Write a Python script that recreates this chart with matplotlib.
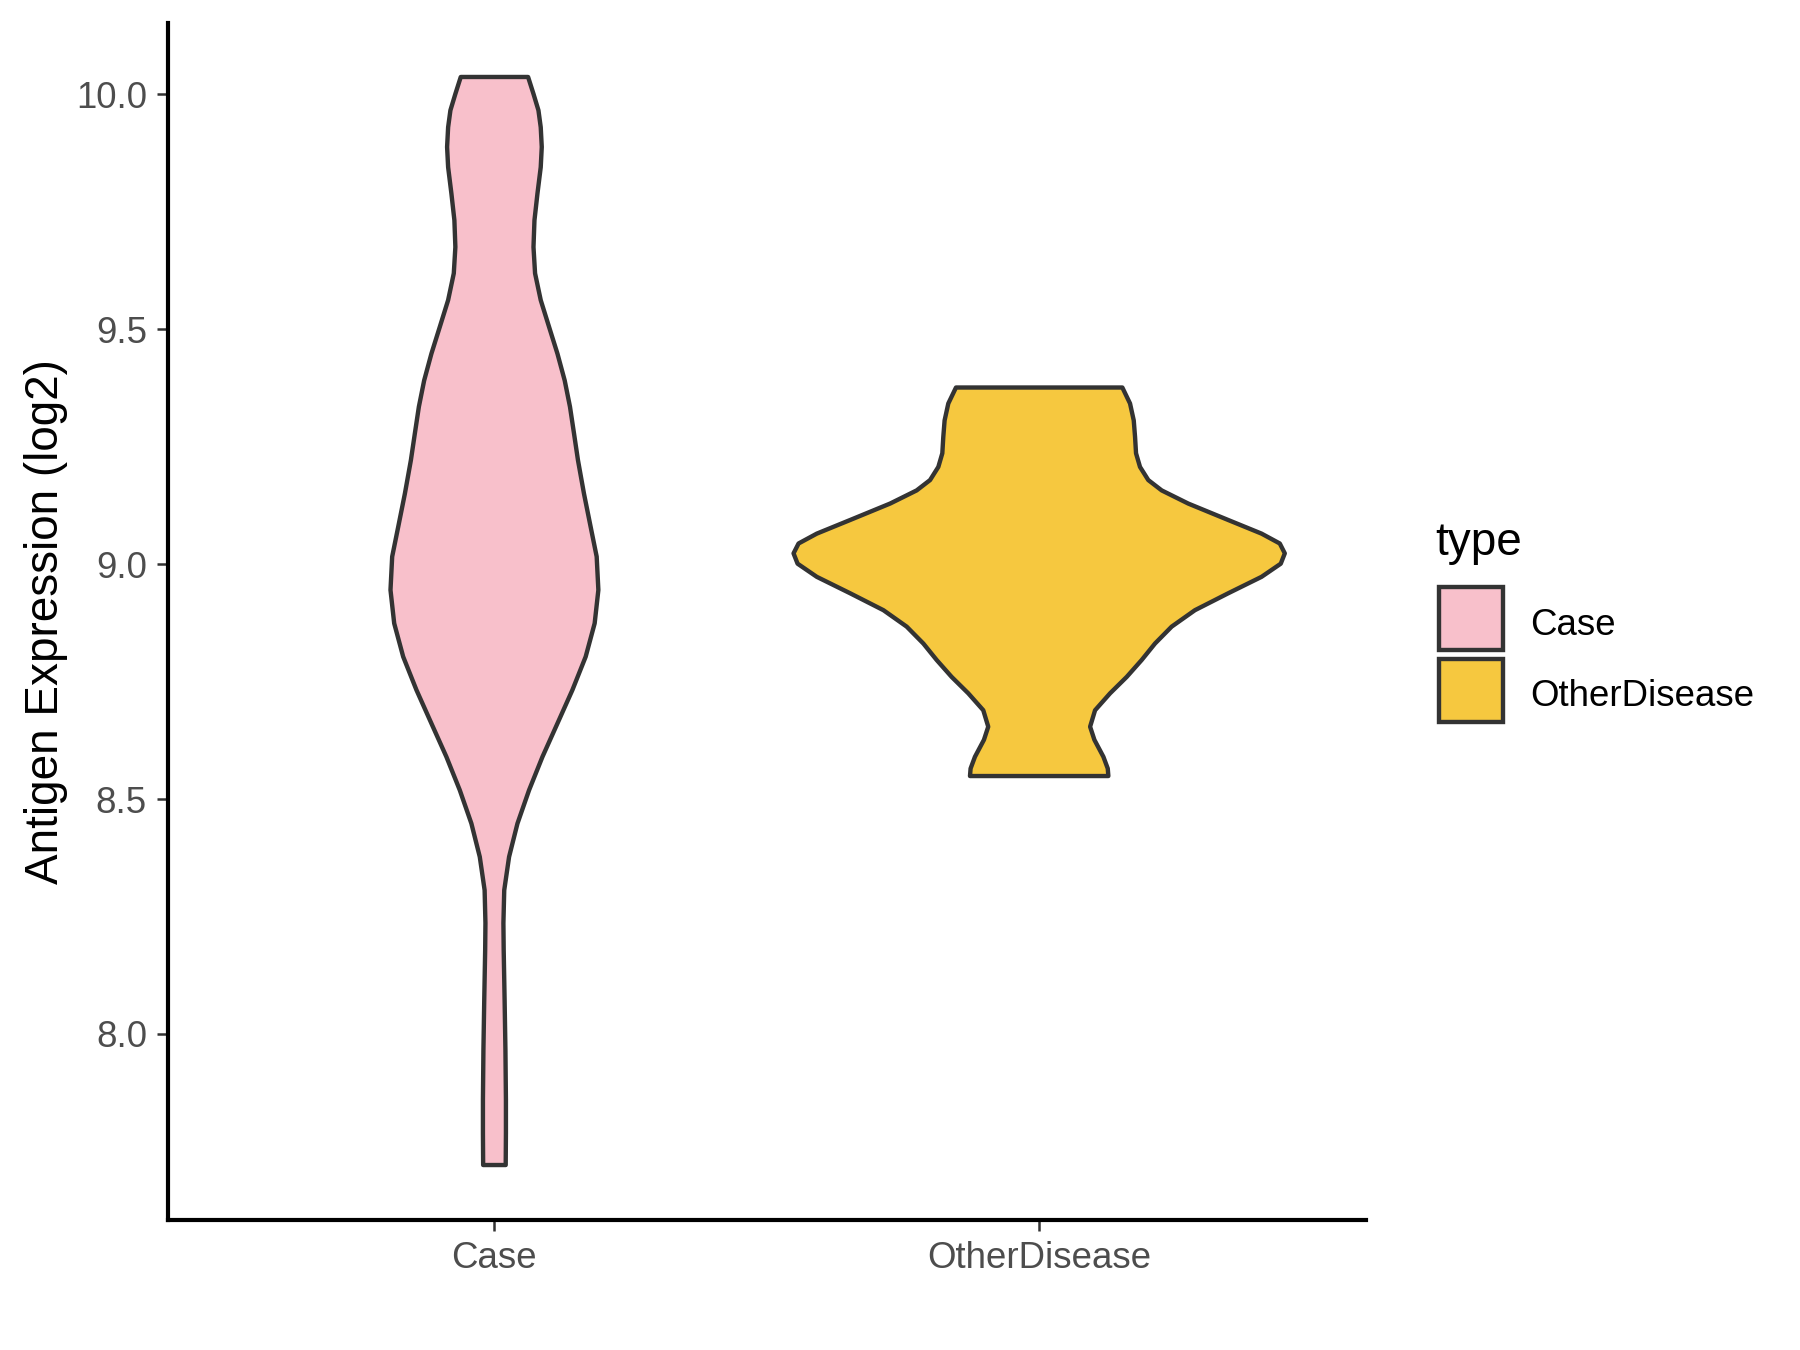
import matplotlib
matplotlib.use("Agg")
import matplotlib.pyplot as plt
from matplotlib.patches import Rectangle
import numpy as np

plt.rcParams["font.family"] = ["Liberation Sans", "DejaVu Sans"]

# groups and fill colours
groups = ["Case", "OtherDisease"]
fills = ["#F8C0CB", "#F6C83F"]

# violin outlines: expression level -> half width (x-axis units)
case_y = [10.037, 10.001, 9.966, 9.930, 9.888, 9.845, 9.789, 9.732, 9.675, 9.619,
          9.562, 9.505, 9.448, 9.391, 9.335, 9.278, 9.221, 9.150, 9.079, 9.016,
          8.945, 8.874, 8.803, 8.732, 8.661, 8.590, 8.519, 8.448, 8.377, 8.306,
          8.236, 8.179, 8.072, 7.966, 7.860, 7.789, 7.721]
case_w = [0.0618, 0.0717, 0.0808, 0.0850, 0.0869, 0.0850, 0.0790, 0.0735, 0.0717, 0.0746,
          0.0850, 0.1003, 0.1157, 0.1290, 0.1387, 0.1461, 0.1534, 0.1644, 0.1767, 0.1877,
          0.1908, 0.1840, 0.1675, 0.1431, 0.1157, 0.0882, 0.0636, 0.0423, 0.0269, 0.0180,
          0.0165, 0.0170, 0.0187, 0.0202, 0.0211, 0.0211, 0.0207]

other_y = [9.376, 9.342, 9.306, 9.271, 9.236, 9.207, 9.179, 9.157, 9.129, 9.094,
           9.065, 9.044, 9.023, 9.001, 8.973, 8.938, 8.902, 8.867, 8.831, 8.796,
           8.760, 8.725, 8.689, 8.654, 8.626, 8.590, 8.565, 8.549]
other_w = [0.1527, 0.1668, 0.1736, 0.1760, 0.1778, 0.1851, 0.2003, 0.2249, 0.2736, 0.3470,
           0.4082, 0.4417, 0.4509, 0.4435, 0.4082, 0.3470, 0.2859, 0.2432, 0.2126, 0.1882,
           0.1607, 0.1301, 0.1026, 0.0935, 0.1014, 0.1179, 0.1259, 0.1270]

yticks = [8.0, 8.5, 9.0, 9.5, 10.0]

profiles = [(case_y, case_w), (other_y, other_w)]

fig = plt.figure(figsize=(6, 4.5), dpi=300)
ax = fig.add_axes([0.0931, 0.0963, 0.6658, 0.8867])

for i, ((ys, ws), col) in enumerate(zip(profiles, fills)):
    pos = i + 1
    ys = np.asarray(ys); ws = np.asarray(ws)
    xs = np.concatenate([pos - ws, (pos + ws)[::-1]])
    yy = np.concatenate([ys, ys[::-1]])
    ax.fill(xs, yy, facecolor=col, edgecolor="#333333", linewidth=1.05,
            joinstyle="round", zorder=2)

ax.set_xlim(0.4, 2.6)
ax.set_ylim(7.604, 10.152)
ax.set_xticks([1, 2])
ax.set_xticklabels(groups)
ax.set_yticks(yticks)
ax.set_yticklabels([f"{t:.1f}" for t in yticks])
ax.tick_params(axis="both", length=2.75, width=0.6, color="#333333",
               labelcolor="#4D4D4D", labelsize=8.8, pad=2.2)
ax.set_ylabel("Antigen Expression (log2)", fontsize=11, color="black", labelpad=2)
for s in ["top", "right"]:
    ax.spines[s].set_visible(False)
for s in ["left", "bottom"]:
    ax.spines[s].set_linewidth(1.0)
    ax.spines[s].set_color("black")

# legend, drawn like ggplot's guide
W, H = 1800.0, 1350.0
fig.text(1435 / W, 1 - 543 / H, "type", fontsize=11, va="center", ha="left")
key_tops = [587, 659]
for top, col, lab in zip(key_tops, fills, groups):
    fig.patches.append(Rectangle((1439 / W, 1 - (top + 63) / H), 64 / W, 63 / H,
                                 transform=fig.transFigure, facecolor=col,
                                 edgecolor="#333333", linewidth=1.05))
    fig.text(1530 / W, 1 - (top + 38) / H, lab, fontsize=8.8, va="center", ha="left")

fig.savefig("out.png", dpi=300)
